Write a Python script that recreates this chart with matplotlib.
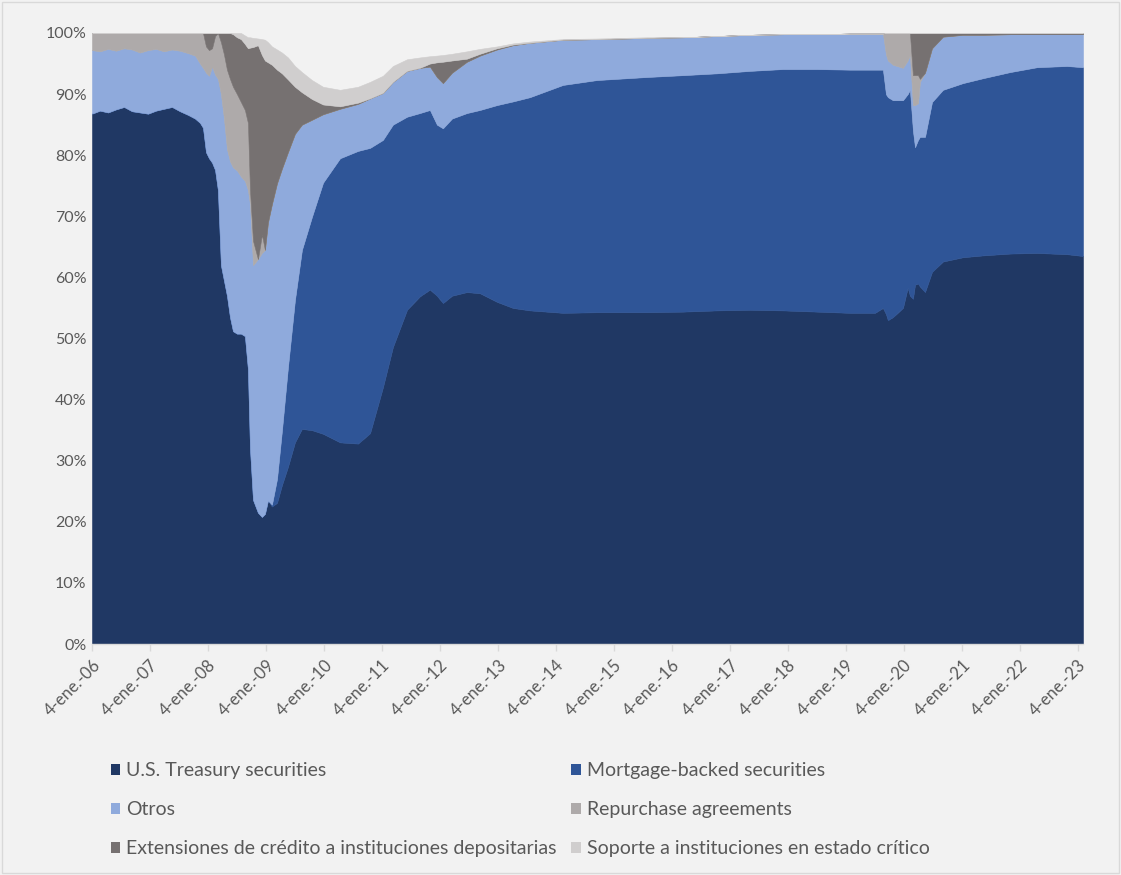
import matplotlib
matplotlib.use("Agg")
import matplotlib.pyplot as plt
from matplotlib.patches import Patch, Rectangle
from matplotlib.ticker import FuncFormatter
import numpy as np

# Composición del balance (% del total), observaciones seleccionadas
dates = [
    "2006-01-04", "2006-02-23", "2006-04-15", "2006-06-04", "2006-07-25", "2006-09-13",
    "2006-11-02", "2006-12-23", "2007-02-11", "2007-04-02", "2007-05-23", "2007-07-12",
    "2007-09-01", "2007-10-15", "2007-11-15", "2007-12-04", "2007-12-23", "2008-01-11",
    "2008-01-30", "2008-02-18", "2008-03-07", "2008-03-26", "2008-04-14", "2008-05-03",
    "2008-05-22", "2008-06-10", "2008-07-05", "2008-07-30", "2008-08-24", "2008-09-12",
    "2008-09-25", "2008-10-14", "2008-11-14", "2008-12-09", "2008-12-28", "2009-01-16",
    "2009-02-10", "2009-03-14", "2009-04-14", "2009-05-22", "2009-07-05", "2009-08-18",
    "2009-10-20", "2009-12-29", "2010-04-15", "2010-08-06", "2010-10-21", "2011-01-10",
    "2011-03-14", "2011-06-11", "2011-08-31", "2011-11-02", "2011-12-16", "2012-01-23",
    "2012-03-20", "2012-06-22", "2012-09-12", "2012-12-28", "2013-04-08", "2013-07-24",
    "2014-02-17", "2014-09-19", "2015-07-31", "2016-03-14", "2016-10-14", "2017-05-09",
    "2017-12-03", "2018-07-05", "2019-01-29", "2019-07-06", "2019-08-25", "2019-09-13",
    "2019-09-25", "2019-10-27", "2019-12-29", "2020-01-28", "2020-02-11", "2020-03-01",
    "2020-03-14", "2020-04-02", "2020-04-14", "2020-05-16", "2020-06-29", "2020-09-06",
    "2021-01-10", "2021-05-16", "2021-11-02", "2022-04-21", "2022-10-27", "2023-02-05",
]

treasury = [
    86.8, 87.3, 87.0, 87.5, 87.9, 87.2, 87.0, 86.8, 87.3, 87.6, 87.9, 87.2,
    86.6, 86.0, 85.3, 84.5, 80.5, 79.5, 78.8, 77.6, 74.3, 62.0, 59.5, 57.0,
    53.5, 51.2, 50.8, 50.8, 50.4, 45.0, 32.0, 23.6, 21.5, 20.8, 21.3, 23.5,
    22.5, 23.1, 26.0, 29.0, 33.0, 35.2, 35.0, 34.4, 33.0, 32.8, 34.5, 42.0,
    48.6, 54.7, 56.9, 58.0, 57.0, 55.8, 57.0, 57.6, 57.4, 56.0, 55.0, 54.6,
    54.2, 54.3, 54.3, 54.4, 54.6, 54.7, 54.6, 54.4, 54.2, 54.2, 55.0, 54.0,
    53.0, 53.5, 55.0, 58.3, 57.0, 56.5, 58.8, 59.0, 58.5, 57.6, 60.9, 62.6,
    63.3, 63.6, 63.9, 64.0, 63.8, 63.5,
]

mbs = [
    0, 0, 0, 0, 0, 0, 0, 0, 0, 0, 0, 0,
    0, 0, 0, 0, 0, 0, 0, 0, 0, 0, 0, 0,
    0, 0, 0, 0, 0, 0, 0, 0, 0, 0, 0, 0,
    0.3, 3.9, 8.9, 16.3, 23.3, 29.3, 34.9, 41.1, 46.5, 47.9, 46.7, 40.5,
    36.4, 31.6, 30.0, 29.4, 28.0, 28.6, 29.0, 29.3, 30.0, 32.2, 33.8, 34.9,
    37.3, 38.0, 38.5, 38.7, 38.8, 39.1, 39.5, 39.7, 39.8, 39.8, 39.0, 36.0,
    36.5, 35.5, 34.0, 31.7, 33.7, 27.5, 22.5, 23.5, 24.5, 25.4, 27.8, 28.1,
    28.5, 29.0, 29.7, 30.4, 30.8, 30.9,
]

otros = [
    10.4, 9.7, 10.4, 9.6, 9.6, 10.1, 9.8, 10.4, 10.1, 9.4, 9.4, 9.9,
    10.1, 10.3, 9.7, 9.8, 13.0, 13.5, 15.7, 15.6, 18.2, 28.0, 26.5, 24.0,
    25.5, 26.8, 26.7, 25.7, 25.4, 29.3, 40.0, 38.4, 41.5, 43.2, 43.2, 45.5,
    49.2, 48.4, 42.9, 35.2, 27.2, 20.5, 15.9, 11.2, 8.1, 7.7, 8.1, 7.7,
    7.0, 7.5, 7.4, 7.1, 7.8, 7.4, 7.5, 8.4, 8.9, 9.1, 9.2, 8.9,
    7.4, 6.7, 6.4, 6.2, 6.1, 5.9, 5.7, 5.7, 5.9, 5.9, 5.9, 6.5,
    6.0, 5.8, 5.3, 5.5, 5.7, 4.2, 6.9, 6.0, 9.0, 10.5, 8.8, 8.7,
    7.9, 7.1, 6.2, 5.4, 5.2, 5.4,
]

repos = [
    2.8, 3.0, 2.6, 2.9, 2.5, 2.7, 3.2, 2.8, 2.6, 3.0, 2.7, 2.9,
    3.3, 3.7, 5.0, 5.7, 4.3, 4.2, 3.0, 6.3, 7.5, 8.5, 10.5, 13.0,
    13.5, 13.2, 12.5, 12.2, 11.6, 11.0, 2.3, 4.0, 0, 3.0, 0, 0,
    0, 0, 0, 0, 0, 0, 0, 0, 0, 0, 0, 0,
    0, 0, 0, 0, 0, 0, 0, 0, 0, 0, 0, 0,
    0, 0, 0, 0, 0, 0, 0, 0, 0, 0, 0, 3.5,
    4.5, 5.2, 5.7, 4.5, 3.6, 4.9, 4.9, 4.6, 0.5, 0, 0, 0,
    0, 0, 0, 0, 0, 0,
]

credito = [
    0, 0, 0, 0, 0, 0, 0, 0, 0, 0, 0, 0,
    0, 0, 0, 0, 2.2, 2.8, 2.5, 0.5, 0, 1.5, 3.5, 6.0,
    7.5, 8.6, 9.3, 10.3, 10.8, 12.2, 23.3, 31.7, 35.0, 29.4, 31.0, 26.2,
    22.8, 18.6, 15.6, 11.9, 7.7, 5.3, 3.4, 1.6, 0.4, 0.2, 0, 0,
    0, 0, 0, 0.5, 2.4, 3.5, 2.0, 0.5, 0.3, 0.2, 0.1, 0,
    0, 0, 0, 0, 0, 0, 0, 0, 0, 0, 0, 0,
    0, 0, 0, 0, 0, 6.9, 6.9, 6.9, 7.5, 6.5, 2.5, 0.6,
    0.3, 0.3, 0.2, 0.2, 0.2, 0.2,
]

soporte = [
    0, 0, 0, 0, 0, 0, 0, 0, 0, 0, 0, 0,
    0, 0, 0, 0, 0, 0, 0, 0, 0, 0, 0, 0,
    0, 0.2, 0.7, 1.0, 1.4, 1.8, 1.7, 1.5, 1.1, 2.6, 3.4, 3.3,
    3.0, 3.3, 3.4, 3.6, 3.4, 3.3, 3.1, 2.9, 2.7, 2.6, 2.7, 2.8,
    2.6, 1.9, 1.7, 1.2, 1.1, 1.1, 1.1, 1.2, 0.8, 0.3, 0.2, 0.2,
    0.1, 0.1, 0.1, 0, 0, 0, 0, 0, 0, 0, 0, 0,
    0, 0, 0, 0, 0, 0, 0, 0, 0, 0, 0, 0,
    0, 0, 0, 0, 0, 0,
]

labels = [
    "U.S. Treasury securities",
    "Mortgage-backed securities",
    "Otros",
    "Repurchase agreements",
    "Extensiones de crédito a instituciones depositarias",
    "Soporte a instituciones en estado crítico",
]
colors = ["#203864", "#2F5597", "#8FAADC", "#AEAAAA", "#767171", "#D0CECE"]

tick_years = list(range(2006, 2024))
tick_labels = [f"4-ene.-{y % 100:02d}" for y in tick_years]

BG = "#F2F2F2"
TXT = "#595959"
plt.rcParams["font.family"] = ["Lato", "DejaVu Sans"]

x = np.array(dates, dtype="datetime64[D]")
series = [np.array(s, dtype=float) / 100.0 for s in
          (treasury, mbs, otros, repos, credito, soporte)]

fig = plt.figure(figsize=(11.21, 8.75), dpi=100, facecolor=BG)
ax = fig.add_axes([92 / 1121, 1 - 644 / 875, (1083 - 92) / 1121, (644 - 33) / 875])
ax.set_facecolor(BG)

ax.stackplot(x, *series, colors=colors, linewidth=0.4, edgecolor="face",
             antialiased=True)

ax.set_xlim(x[0], x[-1])
ax.set_ylim(0, 1)
ax.set_yticks(np.arange(0, 1.01, 0.1))
ax.yaxis.set_major_formatter(FuncFormatter(lambda v, _: f"{v * 100:.0f}%"))
ax.tick_params(axis="y", length=0, pad=4, labelsize=11.5, labelcolor=TXT)

xt = np.array([f"{y}-01-04" for y in tick_years], dtype="datetime64[D]")
ax.set_xticks(xt)
ax.set_xticklabels(tick_labels, rotation=45, ha="right", va="top",
                   rotation_mode="anchor", fontsize=12, color=TXT)
ax.tick_params(axis="x", length=5, width=1, color="#D9D9D9", pad=4)

for side in ("top", "right", "left"):
    ax.spines[side].set_visible(False)
ax.spines["bottom"].set_color("#D9D9D9")
ax.spines["bottom"].set_linewidth(1)

handles = [Patch(facecolor=c, edgecolor="none") for c in colors]
order = [0, 2, 4, 1, 3, 5]
fig.legend([handles[i] for i in order], [labels[i] for i in order],
           ncol=2, loc="center left", bbox_to_anchor=(101 / 1121, 1 - 809.5 / 875),
           frameon=False, fontsize=14, labelcolor=TXT, borderpad=0,
           handlelength=0.5, handleheight=0.5, handletextpad=0.3,
           columnspacing=0.75, labelspacing=1.13)

fig.add_artist(Rectangle((0.002, 0.002), 0.996, 0.996, transform=fig.transFigure,
                         fill=False, edgecolor="#D9D9D9", linewidth=1))

fig.savefig("out.png", dpi=100, facecolor=BG)
